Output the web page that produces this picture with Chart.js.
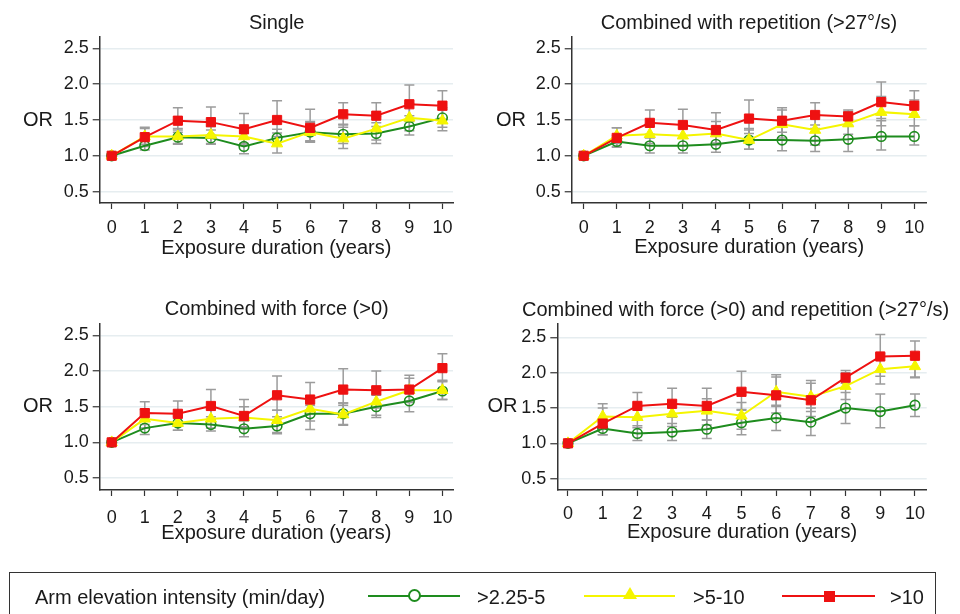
<!DOCTYPE html>
<html>
<head>
<meta charset="utf-8">
<script src="https://cdn.jsdelivr.net/npm/chart.js@4.4.1/dist/chart.umd.min.js"></script>
<style>
body { margin: 0; width: 960px; height: 614px; overflow: hidden; background: #fff; font-family: "Liberation Sans", Arial, sans-serif; color: #1a1a1a; }
canvas { position: absolute; }
#legend { position: absolute; left: 9px; top: 572px; width: 927px; height: 60px; border: 1.5px solid #333; box-sizing: border-box; }
.lg { position: absolute; font-size: 20px; line-height: 24px; top: 585px; white-space: nowrap; }
.ln { position: absolute; height: 2px; top: 595px; }
</style>
</head>
<body>
<canvas id="p1" width="480" height="290" style="left:0;top:0"></canvas>
<canvas id="p2" width="480" height="290" style="left:480px;top:0"></canvas>
<canvas id="p3" width="480" height="290" style="left:0;top:290px"></canvas>
<canvas id="p4" width="480" height="290" style="left:480px;top:290px"></canvas>

<div id="legend"></div>
<div class="lg" style="left:35px">Arm elevation intensity (min/day)</div>
<div class="ln" style="left:368px;width:92px;background:#1e8c1e"></div>
<div style="position:absolute;left:408px;top:589px;width:13px;height:13px;box-sizing:border-box;border:2px solid #1e8c1e;border-radius:50%;background:#fff"></div>
<div class="lg" style="left:477px">&gt;2.25-5</div>
<div class="ln" style="left:584px;width:91px;background:#f5f500"></div>
<div style="position:absolute;left:623px;top:587px;width:0;height:0;border-left:7px solid transparent;border-right:7px solid transparent;border-bottom:12px solid #f5f500"></div>
<div class="lg" style="left:693px">&gt;5-10</div>
<div class="ln" style="left:782px;width:93px;background:#ee1111"></div>
<div style="position:absolute;left:824px;top:591px;width:11px;height:11px;background:#ee1111"></div>
<div class="lg" style="left:890px">&gt;10</div>

<script>
const years = [0, 1, 2, 3, 4, 5, 6, 7, 8, 9, 10];
const yTicks = [0.5, 1.0, 1.5, 2.0, 2.5];

// Single
const sG = [1.00, 1.14, 1.26, 1.25, 1.13, 1.25, 1.33, 1.30, 1.31, 1.41, 1.53];
const sGLo = [1, 1.08, 1.17, 1.16, 1.03, 1.15, 1.21, 1.17, 1.17, 1.29, 1.40];
const sGHi = [1, 1.22, 1.36, 1.36, 1.24, 1.37, 1.47, 1.44, 1.46, 1.56, 1.67];
const sY = [1.00, 1.27, 1.27, 1.29, 1.27, 1.17, 1.33, 1.24, 1.38, 1.53, 1.49];
const sYLo = [1, 1.16, 1.16, 1.17, 1.15, 1.04, 1.20, 1.10, 1.22, 1.35, 1.35];
const sYHi = [1, 1.38, 1.38, 1.41, 1.39, 1.32, 1.48, 1.40, 1.55, 1.73, 1.64];
const sR = [1.00, 1.26, 1.49, 1.47, 1.37, 1.50, 1.39, 1.58, 1.56, 1.72, 1.70];
const sRLo = [1, 1.13, 1.33, 1.28, 1.17, 1.27, 1.19, 1.43, 1.41, 1.48, 1.51];
const sRHi = [1, 1.40, 1.67, 1.68, 1.59, 1.77, 1.65, 1.74, 1.74, 1.99, 1.91];

// Combined with repetition
const rG = [1.00, 1.20, 1.14, 1.14, 1.16, 1.22, 1.22, 1.21, 1.23, 1.27, 1.27];
const rGLo = [1, 1.12, 1.04, 1.04, 1.05, 1.09, 1.07, 1.06, 1.06, 1.08, 1.15];
const rGHi = [1, 1.28, 1.25, 1.25, 1.28, 1.36, 1.40, 1.38, 1.42, 1.49, 1.42];
const rY = [1.00, 1.28, 1.30, 1.28, 1.31, 1.22, 1.44, 1.36, 1.45, 1.61, 1.58];
const rYLo = [1, 1.17, 1.17, 1.14, 1.15, 1.09, 1.25, 1.15, 1.30, 1.42, 1.42];
const rYHi = [1, 1.39, 1.45, 1.44, 1.48, 1.38, 1.64, 1.55, 1.62, 1.83, 1.78];
const rR = [1.00, 1.25, 1.46, 1.43, 1.36, 1.52, 1.49, 1.57, 1.55, 1.75, 1.70];
const rRLo = [1, 1.13, 1.30, 1.25, 1.18, 1.31, 1.33, 1.43, 1.43, 1.52, 1.54];
const rRHi = [1, 1.39, 1.64, 1.65, 1.60, 1.78, 1.67, 1.74, 1.64, 2.03, 1.91];

// Combined with force
const fG = [1.00, 1.20, 1.27, 1.25, 1.19, 1.23, 1.40, 1.40, 1.50, 1.58, 1.72];
const fGLo = [1, 1.11, 1.17, 1.16, 1.08, 1.12, 1.18, 1.25, 1.35, 1.43, 1.60];
const fGHi = [1, 1.30, 1.37, 1.36, 1.30, 1.36, 1.52, 1.55, 1.66, 1.74, 1.86];
const fY = [1.00, 1.33, 1.27, 1.33, 1.35, 1.31, 1.47, 1.39, 1.57, 1.73, 1.73];
const fYLo = [1, 1.20, 1.17, 1.20, 1.22, 1.14, 1.30, 1.24, 1.38, 1.58, 1.60];
const fYHi = [1, 1.46, 1.40, 1.47, 1.50, 1.45, 1.63, 1.55, 1.77, 1.90, 1.87];
const fR = [1.00, 1.41, 1.40, 1.51, 1.37, 1.66, 1.60, 1.74, 1.73, 1.74, 2.04];
const fRLo = [1, 1.25, 1.23, 1.32, 1.20, 1.45, 1.40, 1.52, 1.48, 1.56, 1.85];
const fRHi = [1, 1.57, 1.58, 1.74, 1.60, 1.93, 1.84, 2.03, 2.00, 1.94, 2.24];

// Combined with force and repetition
const frG = [1.00, 1.21, 1.14, 1.16, 1.20, 1.29, 1.36, 1.30, 1.50, 1.45, 1.54];
const frGLo = [1, 1.12, 1.04, 1.04, 1.07, 1.12, 1.18, 1.11, 1.28, 1.22, 1.38];
const frGHi = [1, 1.30, 1.25, 1.28, 1.33, 1.47, 1.54, 1.50, 1.72, 1.70, 1.70];
const frY = [1.00, 1.38, 1.37, 1.42, 1.46, 1.39, 1.73, 1.66, 1.81, 2.05, 2.09];
const frYLo = [1, 1.22, 1.22, 1.24, 1.26, 1.20, 1.52, 1.45, 1.62, 1.84, 1.94];
const frYHi = [1, 1.50, 1.52, 1.60, 1.63, 1.58, 1.94, 1.85, 2.00, 2.27, 2.25];
const frR = [1.00, 1.28, 1.53, 1.56, 1.53, 1.73, 1.68, 1.61, 1.93, 2.23, 2.24];
const frRLo = [1, 1.12, 1.36, 1.37, 1.33, 1.48, 1.43, 1.38, 1.85, 1.95, 1.93];
const frRHi = [1, 1.56, 1.72, 1.78, 1.78, 2.02, 1.97, 1.89, 2.03, 2.54, 2.45];

const GREEN = '#1e8c1e', YELLOW = '#f5f500', RED = '#ee1111';
const FONT = '"Liberation Sans", Arial, sans-serif';

// error bars behind the lines, panel title and horizontal "OR" label
const panelDeco = {
    id: 'panelDeco',
    beforeDatasetsDraw(chart) {
        const {ctx, scales: {x, y}} = chart;
        ctx.save();
        ctx.strokeStyle = '#9c9c9c';
        ctx.lineWidth = 1.5;
        chart.data.datasets.forEach(ds => {
            ds.lo.forEach((lo, i) => {
                const hi = ds.hi[i];
                if (lo === hi) return;
                const px = x.getPixelForValue(years[i]);
                const a = y.getPixelForValue(lo), b = y.getPixelForValue(hi);
                ctx.beginPath();
                ctx.moveTo(px, a); ctx.lineTo(px, b);
                ctx.moveTo(px - 5, a); ctx.lineTo(px + 5, a);
                ctx.moveTo(px - 5, b); ctx.lineTo(px + 5, b);
                ctx.stroke();
            });
        });
        ctx.restore();
    },
    afterDraw(chart, args, opts) {
        const {ctx, chartArea} = chart;
        ctx.save();
        ctx.fillStyle = '#1a1a1a';
        ctx.font = '20px ' + FONT;
        ctx.textAlign = 'center';
        ctx.textBaseline = 'middle';
        ctx.fillText(opts.title, opts.titleX, opts.titleY);
        ctx.fillText('OR', opts.orX, (chartArea.top + chartArea.bottom) / 2);
        ctx.restore();
    }
};

function series(vals, lo, hi, color, style, radius, order) {
    return {
        data: years.map((x, i) => ({x: x, y: vals[i]})),
        lo: lo,
        hi: hi,
        borderColor: color,
        borderWidth: 2,
        pointStyle: style,
        pointRadius: radius,
        pointBorderColor: color,
        pointBorderWidth: style === 'circle' ? 1.6 : 1,
        pointBackgroundColor: style === 'circle' ? 'rgba(255,255,255,0)' : color,
        order: order
    };
}

function panel(id, p, green, yellow, red) {
    new Chart(id, {
        type: 'line',
        data: {
            datasets: [
                series(green[0], green[1], green[2], GREEN, 'circle', 4.8, 2),
                series(yellow[0], yellow[1], yellow[2], YELLOW, 'triangle', 6.5, 1),
                series(red[0], red[1], red[2], RED, 'rect', 6.5, 0)
            ]
        },
        options: {
            responsive: false,
            animation: false,
            layout: {padding: {left: 0, top: p.T, right: 480 - p.R, bottom: 0}},
            scales: {
                x: {
                    type: 'linear',
                    min: p.xMin,
                    max: p.xMax,
                    afterBuildTicks: s => { s.ticks = years.map(v => ({value: v})); },
                    afterFit: s => { s.height = 290 - p.B; },
                    grid: {drawOnChartArea: false, tickLength: 6, tickColor: '#333', tickWidth: 1.2},
                    border: {color: '#333', width: 1.5},
                    ticks: {color: '#1a1a1a', padding: p.tickPad, font: {family: FONT, size: 18}},
                    title: {display: true, text: 'Exposure duration (years)', color: '#1a1a1a',
                        font: {family: FONT, size: 20}, padding: {top: 0, bottom: p.titlePad}}
                },
                y: {
                    min: p.yMin,
                    max: p.yMax,
                    afterBuildTicks: s => { s.ticks = yTicks.map(v => ({value: v})); },
                    afterFit: s => { s.width = p.L; },
                    grid: {color: '#e6edf0', lineWidth: 1.5, tickLength: 7, tickColor: '#333', tickWidth: 1.2},
                    border: {color: '#333', width: 1.5},
                    ticks: {color: '#1a1a1a', padding: 4, font: {family: FONT, size: 18},
                        callback: v => v.toFixed(1)}
                }
            },
            plugins: {
                legend: {display: false},
                tooltip: {enabled: false},
                panelDeco: {title: p.title, titleX: p.titleX, titleY: p.titleY, orX: p.orX}
            }
        },
        plugins: [panelDeco]
    });
}

panel('p1', {L: 99.7, T: 37, R: 453, B: 203, xMin: -0.363, xMax: 10.32, yMin: 0.34, yMax: 2.66,
    tickPad: 8, titlePad: 30, title: 'Single', titleX: 276.7, titleY: 23, orX: 38},
    [sG, sGLo, sGHi], [sY, sYLo, sYHi], [sR, sRLo, sRHi]);

panel('p2', {L: 91.7, T: 37, R: 446.7, B: 203, xMin: -0.363, xMax: 10.375, yMin: 0.34, yMax: 2.66,
    tickPad: 8, titlePad: 31, title: 'Combined with repetition (>27°/s)', titleX: 269, titleY: 23.3, orX: 31},
    [rG, rGLo, rGHi], [rY, rYLo, rYHi], [rR, rRLo, rRHi]);

panel('p3', {L: 99.7, T: 33.3, R: 453, B: 200, xMin: -0.363, xMax: 10.32, yMin: 0.333, yMax: 2.668,
    tickPad: 11, titlePad: 35, title: 'Combined with force (>0)', titleX: 276.7, titleY: 19.3, orX: 38},
    [fG, fGLo, fGHi], [fY, fYLo, fYHi], [fR, fRLo, fRHi]);

panel('p4', {L: 77.3, T: 33.3, R: 446.7, B: 200, xMin: -0.308, xMax: 10.338, yMin: 0.339, yMax: 2.70,
    tickPad: 7.5, titlePad: 36, title: 'Combined with force (>0) and repetition (>27°/s)', titleX: 255.6, titleY: 20, orX: 22.5},
    [frG, frGLo, frGHi], [frY, frYLo, frYHi], [frR, frRLo, frRHi]);
</script>
</body>
</html>
